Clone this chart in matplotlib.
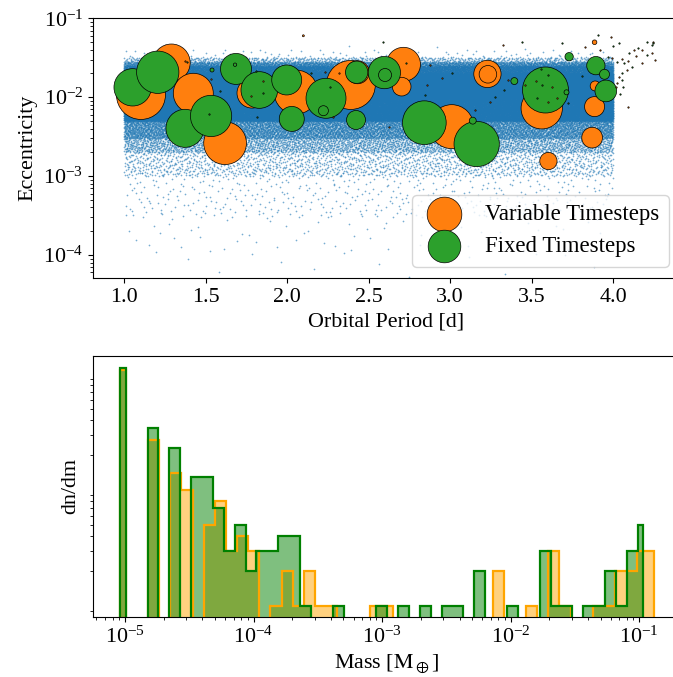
import numpy as np
import matplotlib
matplotlib.use('agg')
import matplotlib.pyplot as plt

plt.rcParams['font.family'] = 'serif'
plt.rcParams['font.serif'] = ['Liberation Serif', 'DejaVu Serif']
plt.rcParams['mathtext.fontset'] = 'stix'
plt.rcParams['font.size'] = 15.8

# Background planetesimal cloud: period span and eccentricity quantiles
# (cumulative fraction -> eccentricity).
cloud_period = [1.0, 4.0]
cloud_frac = [0.0, 8e-5, 8e-4, 5e-3, 0.021, 0.05, 0.13, 0.45, 0.72,
              0.89, 0.97, 0.992, 0.9992, 0.99995, 1.0]
cloud_ecc = [5e-5, 1e-4, 3e-4, 1e-3, 2e-3, 3e-3, 5e-3, 1e-2, 1.5e-2,
             2e-2, 2.5e-2, 2.8e-2, 3.2e-2, 4e-2, 5e-2]
n_cloud = 100000

# Variable timesteps run: grown bodies (period [d], eccentricity, mass [M_earth])
var_period = [1.291, 1.104, 1.425, 1.620, 1.785, 2.055, 2.391, 2.433, 2.714,
              2.703, 3.010, 3.229, 3.232, 3.562, 3.603, 3.886, 3.871, 3.890,
              3.886, 2.100]
var_ecc = [0.0273, 0.01067, 0.0112, 0.00261, 0.01127, 0.0116, 0.01429, 0.0207,
           0.0261, 0.0136, 0.00423, 0.0197, 0.0195, 0.00723, 0.00155, 0.00759,
           0.00307, 0.01387, 0.0497, 0.060]
var_mass = [0.0729, 0.1244, 0.0829, 0.0945, 0.0466, 0.1003, 0.1244, 0.0274,
            0.0599, 0.0181, 0.1003, 0.0386, 0.016, 0.0884, 0.0155, 0.0207,
            0.0222, 0.0052, 0.0011, 0.0002]

# Fixed timesteps run
fix_period = [1.053, 1.207, 1.374, 1.534, 1.540, 1.687, 1.681, 1.830, 1.998,
              2.029, 2.239, 2.223, 2.427, 2.423, 2.597, 2.601, 2.842, 3.163,
              3.139, 3.394, 3.585, 3.714, 3.730, 3.894, 3.947, 3.955]
fix_ecc = [0.01333, 0.0207, 0.00403, 0.00578, 0.0221, 0.0228, 0.0258, 0.01233,
           0.01652, 0.0053, 0.00968, 0.00674, 0.0207, 0.00514, 0.0205, 0.0191,
           0.00475, 0.00255, 0.00504, 0.016, 0.01233, 0.01153, 0.0326, 0.0251,
           0.0195, 0.012]
fix_mass = [0.0722, 0.0928, 0.0749, 0.0884, 0.00083, 0.0498, 0.0006, 0.0697,
            0.0466, 0.0324, 0.0829, 0.0052, 0.0258, 0.0187, 0.054, 0.0088,
            0.099, 0.1064, 0.0025, 0.0025, 0.1097, 0.0013, 0.0036, 0.0174,
            0.0052, 0.0244]

# Leftover small bodies (both runs), drawn as dots
var_small_period = [3.992, 4.053, 4.094, 4.084, 4.037, 4.023, 4.125, 4.176,
                    4.237, 4.094, 3.988, 3.920, 4.255, 2.877, 2.857, 2.626,
                    2.321, 3.354, 3.327, 3.245, 3.153, 3.828, 2.233, 1.532,
                    2.280, 1.855, 1.374, 3.526, 3.628, 3.654, 3.599, 4.245,
                    4.14, 4.18, 4.02, 1.78, 2.95, 3.46]
var_small_ecc = [0.0311, 0.0302, 0.0290, 0.0221, 0.0182, 0.0150, 0.0396,
                 0.0396, 0.0360, 0.00759, 0.0585, 0.0396, 0.0296, 0.0256,
                 0.0143, 0.00423, 0.0201, 0.0165, 0.0459, 0.00877, 0.00689,
                 0.0437, 0.0210, 0.0169, 0.00566, 0.0162, 0.0290, 0.0162,
                 0.0133, 0.00968, 0.00877, 0.0505, 0.033, 0.027, 0.0133,
                 0.0105, 0.0175, 0.0142]
fix_small_period = [4.023, 4.069, 4.113, 4.053, 4.053, 4.059, 4.155, 4.206,
                    4.247, 3.971, 4.037, 3.906, 2.591, 3.010, 2.847, 2.264,
                    2.728, 3.440, 3.685, 3.276, 3.726, 1.814, 1.589, 1.810,
                    1.385, 1.855, 1.523, 3.558, 3.603, 3.563, 3.532, 4.24,
                    4.10, 4.21, 4.04, 4.00, 2.15, 3.33, 3.81]
fix_small_ecc = [0.0282, 0.0269, 0.0244, 0.0201, 0.0165, 0.0136, 0.0417,
                 0.0343, 0.0482, 0.0326, 0.0482, 0.0614, 0.0505, 0.0201,
                 0.0107, 0.0133, 0.0269, 0.0505, 0.0482, 0.0101, 0.00838,
                 0.00566, 0.0121, 0.0217, 0.0282, 0.0112, 0.00607, 0.0226,
                 0.0191, 0.0143, 0.00968, 0.0459, 0.036, 0.050, 0.0110, 0.045,
                 0.0205, 0.0125, 0.0185]
small_mass = 1e-4

# Mass histograms: 49 log-spaced bin centres from the smallest to the
# largest body of each run, counts per bin
mass_min = 9.2e-6
var_mass_max = 0.130
fix_mass_max = 0.107
var_counts = [108, 0, 0, 27, 0, 14, 10, 0, 5, 8, 3, 4, 3, 0, 1, 2, 1, 2, 1, 1,
              0, 0, 0, 1, 1, 0, 0, 0, 0, 0, 0, 0, 0, 0, 2, 0, 0, 1, 0, 3,
              1, 0, 0, 1, 1, 2, 2, 3, 3]
fix_counts = [112, 0, 0, 34, 0, 23, 0, 13, 13, 7, 3, 5, 2, 3, 3, 4, 4, 1, 0,
              0, 1, 0, 0, 0, 1, 0, 1, 0, 1, 0, 1, 1, 0, 2, 0, 0, 1, 0, 0, 3,
              1, 1, 0, 1, 1, 2, 1, 3, 5]

size_per_mass = 1e4  # marker area (pt^2) per earth mass


def halton(n, base):
    # low-discrepancy sequence in [0, 1)
    out = np.zeros(n)
    i = np.arange(1, n + 1)
    f = 1.0
    while np.any(i > 0):
        f /= base
        out += f * (i % base)
        i //= base
    return out


fig = plt.figure(figsize=(6.73, 6.77), dpi=100)
ax = fig.add_axes([0.1382, 0.5894, 0.8722, 0.3836])

# quasi-uniform fill of the cloud following the read-off quantiles
u = halton(n_cloud, 2)
v = halton(n_cloud, 3)
cloud_p = cloud_period[0] + (cloud_period[1] - cloud_period[0]) * u
cloud_e = 10 ** np.interp(v, cloud_frac, np.log10(cloud_ecc))
ax.scatter(cloud_p, cloud_e, s=1.5, c='C0', alpha=0.6, linewidths=0,
           rasterized=True)

h_var = ax.scatter(var_period, var_ecc, s=size_per_mass * np.array(var_mass),
                   c='C1', edgecolors='k', linewidths=0.5,
                   label='Variable Timesteps', zorder=3)
h_fix = ax.scatter(fix_period, fix_ecc, s=size_per_mass * np.array(fix_mass),
                   c='C2', edgecolors='k', linewidths=0.5,
                   label='Fixed Timesteps', zorder=4)
ax.scatter(var_small_period, var_small_ecc, s=size_per_mass * small_mass,
           c='C1', edgecolors='k', linewidths=0.5, zorder=5)
ax.scatter(fix_small_period, fix_small_ecc, s=size_per_mass * small_mass,
           c='C2', edgecolors='k', linewidths=0.5, zorder=5)

ax.set_yscale('log')
ax.set_xlim(0.81, 4.41)
ax.set_ylim(5.11e-5, 1e-1)
ax.set_xticks([1.0, 1.5, 2.0, 2.5, 3.0, 3.5, 4.0])
ax.set_xlabel('Orbital Period [d]')
ax.set_ylabel('Eccentricity')
ax.legend(handles=[h_var, h_fix], loc='lower right', fontsize=16.4)

# Mass histogram, drawn as mid-steps between bin centres
ax2 = fig.add_axes([0.1386, 0.0891, 0.8718, 0.3851])
hists = [(var_counts, var_mass_max, 'orange'),
         (fix_counts, fix_mass_max, 'green')]
for filled in (True, False):
    for counts, mmax, color in hists:
        centres = np.logspace(np.log10(mass_min), np.log10(mmax), len(counts))
        edges = np.concatenate([[centres[0]],
                                np.sqrt(centres[1:] * centres[:-1]),
                                [centres[-1]]])
        if filled:
            ax2.stairs(counts, edges, baseline=0.1, fill=True, color=color,
                       alpha=0.5, linewidth=0)
        else:
            ax2.stairs(counts, edges, baseline=0.1, color=color,
                       linewidth=1.6)

ax2.set_xscale('log')
ax2.set_yscale('log')
ax2.set_xlim(10 ** -5.2465, 10 ** -0.6835)
ax2.set_ylim(0.809, 142.9)
ax2.set_yticks([])
ax2.yaxis.set_minor_formatter(matplotlib.ticker.NullFormatter())
ax2.set_xlabel(r'Mass [$\mathrm{M}_\oplus$]')
ax2.set_ylabel('dn/dm')

fig.savefig('out.png', dpi=100)
